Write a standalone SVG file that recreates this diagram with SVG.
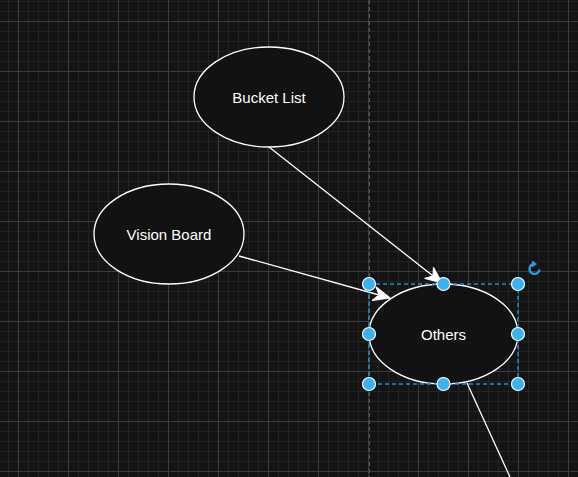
<svg xmlns="http://www.w3.org/2000/svg" width="578" height="477" viewBox="0 0 578 477">
<style>
.node ellipse{fill:#121212;stroke:#ffffff;stroke-width:1.3}
.node text{fill:#ffffff;font-family:"Liberation Sans",Arial,sans-serif;font-size:15px;text-anchor:middle;dominant-baseline:central}
.edge{stroke:#ffffff;stroke-width:1.3;fill:none}
.handle{fill:#38b3f0;stroke:#ffffff;stroke-width:1.2}
</style>
<defs>
<pattern id="minor" x="8" y="1" width="10" height="10" patternUnits="userSpaceOnUse">
<path d="M0.5,0 V10 M0,0.5 H10" stroke="#222222" stroke-width="1" fill="none"/>
</pattern>
<pattern id="major" x="18" y="21" width="50" height="50" patternUnits="userSpaceOnUse">
<path d="M0.5,0 V50 M0,0.5 H50" stroke="#3c3c3c" stroke-width="1" fill="none"/>
</pattern>
<marker id="arrow" markerUnits="userSpaceOnUse" markerWidth="20" markerHeight="20" refX="0" refY="0" viewBox="-14 -8 16 16" orient="auto" overflow="visible">
<path d="M-13,-5.5 L0,0 L-13,5.5 L-9,0 Z" fill="#ffffff" stroke="#ffffff" stroke-width="1" stroke-linejoin="round"/>
</marker>
</defs>
<rect width="578" height="477" fill="#141414"/>
<rect width="578" height="477" fill="url(#minor)"/>
<rect width="578" height="477" fill="url(#major)"/>
<line x1="369.5" y1="0" x2="369.5" y2="477" stroke="#5a5a5a" stroke-width="1" stroke-dasharray="4,3"/>

<g id="connectors">
<line class="edge" x1="269" y1="147" x2="442" y2="283" marker-end="url(#arrow)"/>
<line class="edge" x1="239" y1="256" x2="390" y2="298" marker-end="url(#arrow)"/>
<line class="edge" x1="467" y1="383" x2="510" y2="477"/>
</g>

<g id="bucket-list" class="node">
<ellipse cx="269" cy="97" rx="75" ry="50"/>
<text x="269" y="97">Bucket List</text>
</g>
<g id="vision-board" class="node">
<ellipse cx="169" cy="234" rx="75" ry="50"/>
<text x="169" y="234">Vision Board</text>
</g>
<g id="others" class="node">
<ellipse cx="443.5" cy="334" rx="74.5" ry="50"/>
<text x="443.5" y="334">Others</text>
</g>

<g id="selection">
<rect x="369" y="284" width="149" height="100" fill="none" stroke="#1e8ccc" stroke-width="1.5" stroke-dasharray="4,3"/>
<circle class="handle" cx="369" cy="284" r="6.5"/>
<circle class="handle" cx="443.5" cy="284" r="6.5"/>
<circle class="handle" cx="518" cy="284" r="6.5"/>
<circle class="handle" cx="369" cy="334" r="6.5"/>
<circle class="handle" cx="518" cy="334" r="6.5"/>
<circle class="handle" cx="369" cy="384" r="6.5"/>
<circle class="handle" cx="443.5" cy="384" r="6.5"/>
<circle class="handle" cx="518" cy="384" r="6.5"/>
<path d="M533.5,264 A5,5 0 1 0 539.5,269.5" fill="none" stroke="#2a9de0" stroke-width="2.4"/>
<path d="M532,260.5 L537,264 L532,267.5 Z" fill="#2a9de0"/>
</g>
</svg>
